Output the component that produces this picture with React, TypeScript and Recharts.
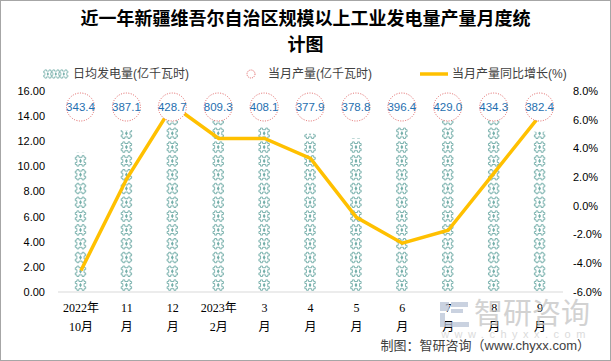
import React from 'react';
import { ComposedChart, Bar, Line, XAxis, YAxis, LabelList } from 'recharts';

const monthTop = ['2022年', '11', '12', '2023年', '3', '4', '5', '6', '7', '8', '9'];
const monthBottom = ['10月', '月', '月', '2月', '月', '月', '月', '月', '月', '月', '月'];
const dailyAvg = [11.08, 12.9, 13.83, 13.72, 13.16, 12.6, 12.22, 13.21, 13.84, 14.01, 12.75];
const production = [343.4, 387.1, 428.7, 809.3, 408.1, 377.9, 378.8, 396.4, 429.0, 434.3, 382.4];
const yoy = [-4.5, 1.9, 7.0, 4.7, 4.7, 3.3, -0.8, -2.6, -1.7, 2.3, 6.3];

const leftTicks = [0, 2, 4, 6, 8, 10, 12, 14, 16];
const rightTicks = [-6, -4, -2, 0, 2, 4, 6, 8];

const data = monthTop.map((t, i) => ({
  top: t,
  bottom: monthBottom[i],
  name: i,
  daily: dailyAvg[i],
  production: production[i],
  yoy: yoy[i],
}));

const W = 611;
const H = 361;
const PLOT_TOP = 91;
const PLOT_BOTTOM = 292;
const TEAL = '#74aea9';
const GOLD = '#FFC000';
const SANS = "'Liberation Sans', Arial, 'Noto Sans CJK SC', sans-serif";
const SERIF = "'Liberation Serif', 'Noto Sans CJK SC', serif";

function Gear({ cx, cy }: { cx: number; cy: number }) {
  const s = 5.2;
  const n = 1.6;
  // gear-like outline: square with notched sides
  const d = [
    `M${cx - s + n} ${cy - s}`,
    `L${cx - n} ${cy - s}`,
    `L${cx - n} ${cy - s + n}`,
    `L${cx + n} ${cy - s + n}`,
    `L${cx + n} ${cy - s}`,
    `L${cx + s - n} ${cy - s}`,
    `L${cx + s - n} ${cy - s + n}`,
    `L${cx + s} ${cy - s + n}`,
    `L${cx + s} ${cy - n}`,
    `L${cx + s - n} ${cy - n}`,
    `L${cx + s - n} ${cy + n}`,
    `L${cx + s} ${cy + n}`,
    `L${cx + s} ${cy + s - n}`,
    `L${cx + s - n} ${cy + s - n}`,
    `L${cx + s - n} ${cy + s}`,
    `L${cx + n} ${cy + s}`,
    `L${cx + n} ${cy + s - n}`,
    `L${cx - n} ${cy + s - n}`,
    `L${cx - n} ${cy + s}`,
    `L${cx - s + n} ${cy + s}`,
    `L${cx - s + n} ${cy + s - n}`,
    `L${cx - s} ${cy + s - n}`,
    `L${cx - s} ${cy + n}`,
    `L${cx - s + n} ${cy + n}`,
    `L${cx - s + n} ${cy - n}`,
    `L${cx - s} ${cy - n}`,
    `L${cx - s} ${cy - s + n}`,
    `L${cx - s + n} ${cy - s + n}`,
    'Z',
  ].join(' ');
  return (
    <g>
      <path d={d} fill="#fff" stroke={TEAL} strokeWidth={0.9} />
      <path
        d={`M${cx} ${cy - 2.4} L${cx + 1.4} ${cy} L${cx} ${cy + 2.4} L${cx - 1.4} ${cy} Z`}
        fill={TEAL}
      />
    </g>
  );
}

function GearBar(props: any) {
  const { x, y, width, height, index } = props;
  if (height <= 0) return null;
  const pitch = 13.8;
  const cx = x + width / 2;
  const items = [] as React.ReactNode[];
  let k = 0;
  for (let cy = y + height - pitch / 2; cy > y - pitch / 2; cy -= pitch) {
    items.push(<Gear key={k++} cx={cx} cy={cy} />);
  }
  const id = `clipbar${index}`;
  return (
    <g>
      <defs>
        <clipPath id={id}>
          <rect x={x - 2} y={y} width={width + 4} height={height} />
        </clipPath>
      </defs>
      <g clipPath={`url(#${id})`}>{items}</g>
    </g>
  );
}

function CircleLabel(props: any) {
  const { x, width, value } = props;
  const cx = x + width / 2;
  const cy = PLOT_TOP + 16;
  return (
    <g>
      <circle cx={cx} cy={cy} r={14} fill="#fff" stroke="#e06060" strokeWidth={1} strokeDasharray="1 1.5" />
      <text
        x={cx}
        y={cy}
        textAnchor="middle"
        dominantBaseline="central"
        fontSize={11.5}
        fontFamily={SANS}
        fill="#1f6fb0"
      >
        {Number(value).toFixed(1)}
      </text>
    </g>
  );
}

function XTick(props: any) {
  const { x, payload } = props;
  const d = data[payload.value];
  return (
    <g>
      <text x={x} y={PLOT_BOTTOM + 20} textAnchor="middle" fontSize={12} fontFamily={SERIF} fill="#000">
        {d.top}
      </text>
      <text x={x} y={PLOT_BOTTOM + 39} textAnchor="middle" fontSize={12} fontFamily={SERIF} fill="#000">
        {d.bottom}
      </text>
    </g>
  );
}

export default function App() {
  return (
    <div style={{ position: 'absolute', left: 0, top: 0, width: W, height: H, background: '#fff', overflow: 'hidden' }}>
      <div
        style={{
          position: 'absolute',
          left: 0,
          top: 6,
          width: W,
          textAlign: 'center',
          fontFamily: SERIF,
          fontWeight: 'bold',
          fontSize: 18,
          lineHeight: '26px',
          color: '#000',
        }}
      >
        近一年新疆维吾尔自治区规模以上工业发电量产量月度统
        <br />
        计图
      </div>

      {/* legend */}
      <svg width={W} height={20} style={{ position: 'absolute', left: 0, top: 64 }}>
        <g transform="translate(11,2) scale(0.8)">
          <Gear cx={46} cy={10} />
          <Gear cx={56} cy={10} />
          <Gear cx={66} cy={10} />
        </g>
        <text x={73} y={10} dominantBaseline="central" fontSize={12} fontFamily={SANS} fill="#404040">
          日均发电量(亿千瓦时)
        </text>
        <circle cx={251} cy={10} r={4} fill="none" stroke="#e06060" strokeWidth={1} strokeDasharray="1 1" />
        <text x={268} y={10} dominantBaseline="central" fontSize={12} fontFamily={SANS} fill="#404040">
          当月产量(亿千瓦时)
        </text>
        <line x1={420} x2={448} y1={10} y2={10} stroke={GOLD} strokeWidth={3.5} />
        <text x={452} y={10} dominantBaseline="central" fontSize={12} fontFamily={SANS} fill="#404040">
          当月产量同比增长(%)
        </text>
      </svg>

      <div style={{ position: 'absolute', left: 0, top: 0 }}>
        <ComposedChart
          width={W}
          height={H}
          data={data}
          margin={{ top: PLOT_TOP, right: 0, bottom: 0, left: 0 }}
        >
          <XAxis
            dataKey="name"
            tick={<XTick />}
            tickLine={false}
            axisLine={{ stroke: '#d9d9d9' }}
            interval={0}
            height={H - PLOT_BOTTOM}
          />
          <YAxis
            yAxisId="left"
            domain={[0, 16]}
            ticks={leftTicks}
            tickFormatter={(v: number) => v.toFixed(2)}
            width={58}
            tickSize={0}
            tickMargin={13}
            axisLine={false}
            tickLine={false}
            tick={{ fontSize: 11, fill: '#000', fontFamily: SANS }}
            interval={0}
          />
          <YAxis
            yAxisId="right"
            orientation="right"
            domain={[-6, 8]}
            ticks={rightTicks}
            tickFormatter={(v: number) => `${v.toFixed(1)}%`}
            width={48}
            tickSize={0}
            tickMargin={10}
            axisLine={false}
            tickLine={false}
            tick={{ fontSize: 11, fill: '#000', fontFamily: SANS }}
            interval={0}
          />
          <Bar yAxisId="left" dataKey="daily" barSize={13} shape={<GearBar />} isAnimationActive={false}>
            <LabelList dataKey="production" content={<CircleLabel />} />
          </Bar>
          <Line
            yAxisId="right"
            dataKey="yoy"
            stroke={GOLD}
            strokeWidth={3.5}
            dot={false}
            activeDot={false}
            isAnimationActive={false}
          />
        </ComposedChart>
      </div>

      {/* watermark */}
      <svg width={W} height={H} style={{ position: 'absolute', left: 0, top: 0, pointerEvents: 'none' }}>
        <g opacity={0.75}>
          <rect x={440} y={302} width={9} height={9} fill="#b9c3d6" />
          <rect x={451} y={302} width={17} height={5} fill="#b9c3d6" />
          <rect x={451} y={309} width={12} height={4} fill="#b9c3d6" />
          <rect x={440} y={313} width={5} height={14} fill="#b9c3d6" />
          <rect x={445} y={322} width={24} height={5} fill="#b9c3d6" />
          <text x={532} y={314} textAnchor="middle" dominantBaseline="central" fontSize={29} fontFamily={SANS} fill="#c4c4c4">
            智研咨询
          </text>
          <text x={516} y={334} textAnchor="middle" dominantBaseline="central" fontSize={11} letterSpacing={5.5} fontFamily={SANS} fill="#d0d0d0">
            www.chyxx.com
          </text>
        </g>
        <text x={590} y={345} textAnchor="end" dominantBaseline="central" fontSize={13} fontFamily={SANS} fill="#404040">
          制图：智研咨询（www.chyxx.com）
        </text>
        <rect x={0.5} y={0.5} width={W - 1} height={H - 1} fill="none" stroke="#a6a6a6" strokeWidth={1} />
      </svg>
    </div>
  );
}
